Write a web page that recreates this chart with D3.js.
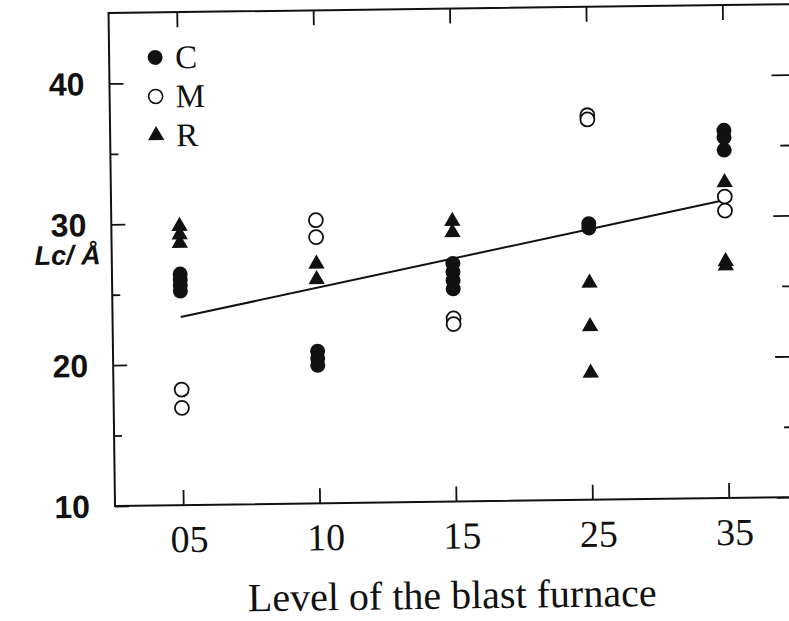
<!DOCTYPE html>
<html>
<head>
<meta charset="utf-8">
<script src="https://cdn.jsdelivr.net/npm/d3@7/dist/d3.min.js"></script>
<style>
  html, body { margin: 0; padding: 0; background: #fff; }
  svg { display: block; }
</style>
</head>
<body>
<svg id="chart" width="789" height="621"></svg>
<script>
// ---- data ----
const categories = ["05", "10", "15", "25", "35"];
const yTicks = [10, 20, 30, 40];
const yMinorTicks = [15, 25, 35];

const cLevels = ["05","05","05","05","10","10","10","15","15","15","15","25","25","35","35","35"];
const cValues = [26.4, 26.0, 25.6, 25.2, 20.8, 20.3, 19.8, 26.9, 26.3, 25.7, 25.1, 29.6, 29.3, 36.1, 35.6, 34.7];

const mLevels = ["05","05","10","10","15","15","25","25","35","35"];
const mValues = [18.2, 16.9, 30.1, 28.9, 23.0, 22.6, 37.3, 37.0, 31.4, 30.4];

const rLevels = ["05","05","05","10","10","15","15","25","25","25","35","35","35"];
const rValues = [29.8, 29.2, 28.6, 27.0, 25.9, 29.9, 29.1, 25.4, 22.3, 19.0, 32.4, 26.8, 26.5];

const fitLevels = ["05", "35"];
const fitValues = [23.35, 31.15];

const legendLabels = ["C", "M", "R"];

// ---- layout ----
const svg = d3.select("#chart");
const pL = 115, pB = 506, pT = 13, pR = 797;

const x = d3.scalePoint().domain(categories).range([pL, pR]).padding(0.5);
const y = d3.scaleLinear().domain([10, 45]).range([pB, pT]);

const g = svg.append("g").attr("transform", `rotate(-0.75, ${pL}, ${pB})`);

const ink = "#111";

// frame
g.append("rect")
  .attr("x", pL).attr("y", pT)
  .attr("width", pR - pL).attr("height", pB - pT)
  .attr("fill", "none").attr("stroke", ink).attr("stroke-width", 2);

function tickStyle(a) {
  a.select(".domain").remove();
  a.selectAll("line").attr("stroke", ink).attr("stroke-width", 1.8);
}

// left axis ticks (inward)
g.append("g").attr("transform", `translate(${pL},0)`)
  .call(d3.axisRight(y).tickValues(yTicks).tickSize(14).tickFormat(""))
  .call(tickStyle);
g.append("g").attr("transform", `translate(${pL},0)`)
  .call(d3.axisRight(y).tickValues(yMinorTicks).tickSize(8).tickFormat(""))
  .call(tickStyle);
// right axis ticks (inward)
g.append("g").attr("transform", `translate(${pR},0)`)
  .call(d3.axisLeft(y).tickValues(yTicks).tickSize(20).tickFormat(""))
  .call(tickStyle);
g.append("g").attr("transform", `translate(${pR},0)`)
  .call(d3.axisLeft(y).tickValues(yMinorTicks).tickSize(12).tickFormat(""))
  .call(tickStyle);

// y labels
g.append("g").selectAll("text").data(yTicks).join("text")
  .attr("x", 90).attr("y", d => y(d)).attr("dy", "0.36em")
  .attr("text-anchor", "end")
  .attr("font-family", "'Liberation Sans', Arial, sans-serif")
  .attr("font-weight", "bold").attr("font-size", 32)
  .attr("fill", ink)
  .text(d => d);

// bottom ticks (inward)
g.append("g").attr("transform", `translate(0,${pB})`)
  .call(d3.axisTop(x).tickSize(15).tickFormat(""))
  .call(tickStyle);
// top ticks (inward)
g.append("g").attr("transform", `translate(0,${pT})`)
  .call(d3.axisBottom(x).tickSize(15).tickFormat(""))
  .call(tickStyle);

g.append("g").selectAll("text").data(categories).join("text")
  .attr("x", d => x(d) + 6).attr("y", 553)
  .attr("text-anchor", "middle")
  .attr("font-family", "'Liberation Serif', 'Times New Roman', serif")
  .attr("font-size", 38).attr("fill", ink)
  .text(d => d);

// axis titles
g.append("text")
  .attr("x", 451).attr("y", 613)
  .attr("text-anchor", "middle")
  .attr("font-family", "'Liberation Serif', 'Times New Roman', serif")
  .attr("font-size", 40).attr("fill", ink)
  .text("Level of the blast furnace");

g.append("text")
  .attr("x", 38).attr("y", 264)
  .attr("font-family", "'Liberation Sans', Arial, sans-serif")
  .attr("font-weight", "bold").attr("font-style", "italic")
  .attr("font-size", 27).attr("fill", ink)
  .text("Lc/ Å");

// fit line
g.append("line")
  .attr("x1", x(fitLevels[0])).attr("y1", y(fitValues[0]))
  .attr("x2", x(fitLevels[1])).attr("y2", y(fitValues[1]))
  .attr("stroke", ink).attr("stroke-width", 2);

// markers
const tri = d3.symbol().type(d3.symbolTriangle).size(115);

g.append("g").selectAll("path").data(rValues).join("path")
  .attr("d", tri)
  .attr("transform", (d, i) => `translate(${x(rLevels[i])},${y(d)})`)
  .attr("fill", ink);

g.append("g").selectAll("circle").data(cValues).join("circle")
  .attr("cx", (d, i) => x(cLevels[i])).attr("cy", d => y(d))
  .attr("r", 7.5).attr("fill", ink);

g.append("g").selectAll("circle").data(mValues).join("circle")
  .attr("cx", (d, i) => x(mLevels[i])).attr("cy", d => y(d))
  .attr("r", 7).attr("fill", "#fff").attr("stroke", ink).attr("stroke-width", 1.8);

// legend
const leg = g.append("g").selectAll("g").data(legendLabels).join("g")
  .attr("transform", (d, i) => `translate(161,${58 + i * 39})`);
leg.each(function(d, i) {
  const s = d3.select(this);
  if (i === 0) s.append("circle").attr("r", 7.5).attr("fill", ink);
  if (i === 1) s.append("circle").attr("r", 7).attr("fill", "#fff").attr("stroke", ink).attr("stroke-width", 1.6);
  if (i === 2) s.append("path").attr("d", tri).attr("fill", ink);
});
leg.append("text")
  .attr("x", 20).attr("y", 11)
  .attr("font-family", "'Liberation Serif', 'Times New Roman', serif")
  .attr("font-size", 33).attr("fill", ink)
  .text(d => d);
</script>
</body>
</html>
